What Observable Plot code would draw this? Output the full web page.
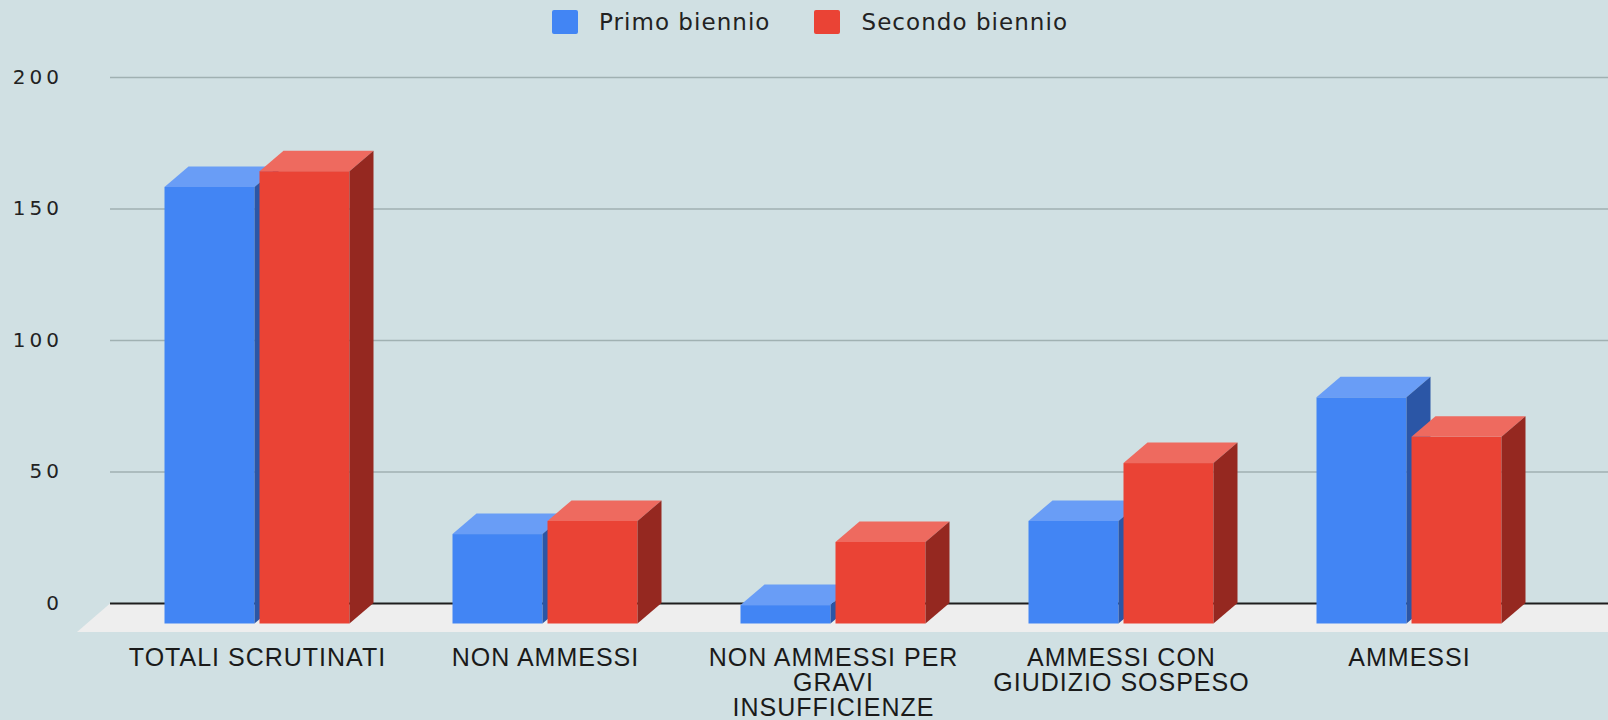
<!DOCTYPE html>
<html>
<head>
<meta charset="utf-8">
<script src="https://cdn.jsdelivr.net/npm/d3@7"></script>
<script src="https://cdn.jsdelivr.net/npm/@observablehq/plot@0.6"></script>
<style>
  html, body { margin: 0; padding: 0; background: #d0e0e3; width: 1608px; height: 720px; overflow: hidden; }
  #legend { height: 44px; display: flex; align-items: center; justify-content: center; padding-left: 12px; box-sizing: border-box;
            font-family: "DejaVu Sans", sans-serif; font-size: 23px; color: #222; }
  .item { display: flex; align-items: center; }
  .item + .item { margin-left: 44px; }
  .sw { width: 26px; height: 24px; border-radius: 2px; margin-right: 21px; }
  .lbl { letter-spacing: 1.05px; }
  g[aria-description="ylabels"] text { letter-spacing: 4px; }
  g[aria-description="xlabels"] text { letter-spacing: 1px; }
</style>
</head>
<body>
<div id="legend"></div>
<div id="chart"></div>
<script>
// ---- data ----
const categories = ["TOTALI SCRUTINATI", "NON AMMESSI", "NON AMMESSI PER GRAVI INSUFFICIENZE", "AMMESSI CON GIUDIZIO SOSPESO", "AMMESSI"];
const tickLabels = ["TOTALI SCRUTINATI", "NON AMMESSI", "NON AMMESSI PER\nGRAVI\nINSUFFICIENZE", "AMMESSI CON\nGIUDIZIO SOSPESO", "AMMESSI"];
const series = ["Primo biennio", "Secondo biennio"];
const primoBiennio = [166, 34, 7, 39, 86];
const secondoBiennio = [172, 39, 31, 61, 71];
const yTicks = [0, 50, 100, 150, 200];

// ---- styles ----
const frontColors = ["#4285f4", "#ea4335"];
const topColors = ["#699df6", "#ee6a5f"];
const sideColors = ["#2b56a6", "#952820"];
const DEPTH_X = 24, DEPTH_Y = 20.5;      // bar depth (oblique projection)
const FLOOR_X = 33, FLOOR_Y = 28.4;      // floor depth

const values = [primoBiennio, secondoBiennio];
const rows = series.map((s, si) => categories.map((c, ci) => ({category: c, series: s, value: values[si][ci]})));

// legend
const legend = d3.select("#legend");
series.forEach((s, i) => {
  const it = legend.append("div").attr("class", "item");
  it.append("div").attr("class", "sw").style("background", frontColors[i]);
  it.append("span").attr("class", "lbl").text(s);
});

const insets = [[51.5, 146.5], [146.5, 51.5]];

const svg = Plot.plot({
  width: 1608,
  height: 676,
  marginLeft: 110,
  marginRight: 4,
  marginTop: 33,
  marginBottom: 117,
  style: {background: "transparent", overflow: "visible"},
  x: {domain: categories, paddingInner: 0, paddingOuter: 0.0915, axis: null},
  y: {domain: [0, 200], axis: null},
  marks: [
    Plot.ruleY(yTicks.filter(d => d !== 0), {stroke: "#a0b1b2", strokeWidth: 1.6, insetRight: -4}),
    Plot.ruleY([0], {stroke: "#1e1e1e", strokeWidth: 2, insetRight: -4, ariaDescription: "zero"}),
    ...rows.map((data, si) => Plot.barY(data, {
      x: "category", y: "value", fill: frontColors[si],
      insetLeft: insets[si][0], insetRight: insets[si][1],
      dx: -DEPTH_X, dy: DEPTH_Y, ariaDescription: "bars-" + si
    })),
    Plot.text(yTicks, {
      y: d => d, text: d => String(d), frameAnchor: "left", textAnchor: "end",
      dx: -47.5, fontSize: 20, fontFamily: "DejaVu Sans", fill: "#222", ariaDescription: "ylabels"
    }),
    Plot.text(categories, {
      x: d => d, text: (d, i) => tickLabels[i], frameAnchor: "bottom", lineAnchor: "top",
      dx: -DEPTH_X, dy: 44.5, fontSize: 25, lineHeight: 1.0, fontFamily: "Liberation Sans, Arial", fill: "#1a1a1a",
      ariaDescription: "xlabels"
    })
  ]
});

const NS = "http://www.w3.org/2000/svg";
function poly(parent, pts, fill, before) {
  const p = document.createElementNS(NS, "polygon");
  p.setAttribute("points", pts.map(q => q.join(",")).join(" "));
  p.setAttribute("fill", fill);
  if (before) parent.insertBefore(p, before); else parent.appendChild(p);
  return p;
}

// floor under the zero line
const zeroG = svg.querySelector('g[aria-description="zero"]') || svg.querySelectorAll('g[aria-label="rule"]')[1];
if (zeroG) {
  const ln = zeroG.querySelector("line");
  const x1 = +ln.getAttribute("x1"), x2 = +ln.getAttribute("x2");
  const yy = +ln.getAttribute("y1") || +ln.getAttribute("y2");
  const g = document.createElementNS(NS, "g");
  const tr = zeroG.getAttribute("transform");
  if (tr) g.setAttribute("transform", tr);
  zeroG.parentNode.insertBefore(g, zeroG);
  poly(g, [[x1, yy], [x2 + FLOOR_X, yy], [x2, yy + FLOOR_Y], [x1 - FLOOR_X, yy + FLOOR_Y]], "#eeeeee");
}

// 3D faces for the bars
const barGroups = series.map((s, si) => svg.querySelector(`g[aria-description="bars-${si}"]`) || svg.querySelectorAll('g[aria-label="bar"]')[si]);
barGroups.forEach((g, si) => {
  if (!g) return;
  Array.from(g.querySelectorAll("rect")).forEach(r => {
    const x = +r.getAttribute("x"), y = +r.getAttribute("y");
    const w = +r.getAttribute("width"), h = +r.getAttribute("height");
    poly(g, [[x, y], [x + w, y], [x + w + DEPTH_X, y - DEPTH_Y], [x + DEPTH_X, y - DEPTH_Y]], topColors[si]);
    poly(g, [[x + w, y], [x + w + DEPTH_X, y - DEPTH_Y], [x + w + DEPTH_X, y + h - DEPTH_Y], [x + w, y + h]], sideColors[si]);
  });
});

document.getElementById("chart").appendChild(svg);
</script>
</body>
</html>
